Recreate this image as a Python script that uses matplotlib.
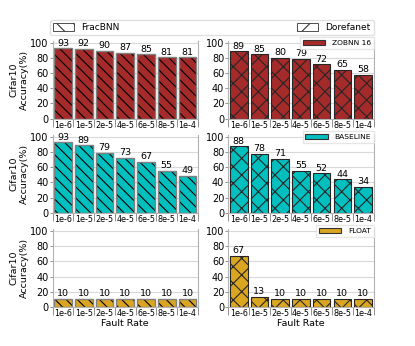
import matplotlib.pyplot as plt
from matplotlib.patches import Patch
from matplotlib.ticker import FixedLocator

fault_rates = ["1e-6", "1e-5", "2e-5", "4e-5", "6e-5", "8e-5", "1e-4"]

# FracBNN (left column) / Dorefanet (right column)
zobnn_frac = [93, 92, 90, 87, 85, 81, 81]
zobnn_dore = [89, 85, 80, 79, 72, 65, 58]
base_frac = [93, 89, 79, 73, 67, 55, 49]
base_dore = [88, 78, 71, 55, 52, 44, 34]
float_frac = [10, 10, 10, 10, 10, 10, 10]
float_dore = [67, 13, 10, 10, 10, 10, 10]

rows = [
    ("ZOBNN 16", "brown", zobnn_frac, zobnn_dore),
    ("BASELINE", "c", base_frac, base_dore),
    ("FLOAT", "goldenrod", float_frac, float_dore),
]

plt.rcParams['hatch.linewidth'] = 0.8

fig, axes = plt.subplots(3, 2, figsize=(4.15, 3.46), dpi=100)
fig.subplots_adjust(left=0.127, right=0.9, top=0.882, bottom=0.1136,
                    wspace=0.21, hspace=0.21)

x = range(len(fault_rates))
w = 0.85

for r, (name, col, left_vals, right_vals) in enumerate(rows):
    for c, vals in enumerate([left_vals, right_vals]):
        ax = axes[r, c]
        ax.set_axisbelow(True)
        ax.grid(axis='y', color='0.85', linewidth=0.8)
        if c == 0:
            # black hatch, grey outline
            ax.bar(x, vals, width=w, color=col, hatch='\\\\\\', edgecolor='black', linewidth=0)
            bars = ax.bar(x, vals, width=w, facecolor='none', edgecolor='0.5', linewidth=1.0)
        else:
            bars = ax.bar(x, vals, width=w, color=col, hatch='xx', edgecolor='0.15', linewidth=0.8)
        ax.bar_label(bars, labels=[str(v) for v in vals], padding=0.5, fontsize=6.8)
        ax.set_ylim(0, 103)
        ax.set_xlim(-0.5, 6.5)
        ax.set_yticks([0, 20, 40, 60, 80, 100])
        ax.tick_params(axis='y', labelsize=7, length=2, width=0.6, color='0.5', pad=1)
        ax.set_xticks(list(x))
        ax.set_xticklabels(fault_rates)
        ax.xaxis.set_minor_locator(FixedLocator([i - 0.5 for i in range(8)]))
        ax.tick_params(axis='x', which='major', length=0, labelsize=5.8, pad=1.5)
        ax.tick_params(axis='x', which='minor', length=5.5, width=0.6, color='0.5')
        ax.spines['top'].set_visible(False)
        for s in ['left', 'right', 'bottom']:
            ax.spines[s].set_color('0.7')
            ax.spines[s].set_linewidth(0.8)
        if c == 0:
            ax.set_ylabel("Cifar10\nAccuracy(%)", fontsize=6.8, labelpad=1)
        else:
            ax.legend(handles=[Patch(facecolor=col, edgecolor='0.2', linewidth=0.8)],
                      labels=[name], loc='upper right', bbox_to_anchor=(1.0, 1.05),
                      fontsize=5.4, borderpad=0.35, borderaxespad=0, frameon=True,
                      edgecolor='0.88', fancybox=False, handlelength=3.0,
                      handleheight=0.8, handletextpad=0.9)
        if r == 2:
            ax.set_xlabel("Fault Rate", fontsize=6.8, labelpad=0)

handles = [Patch(facecolor='white', edgecolor='0.2', hatch='\\\\', linewidth=0.6),
           Patch(facecolor='white', edgecolor='0.2', hatch='x', linewidth=0.6)]
fig.legend(handles, ["FracBNN", "Dorefanet"], ncol=2, mode='expand',
           loc='lower left', bbox_to_anchor=(0.12, 0.9, 0.78, 0.045),
           fontsize=6.5, frameon=True, edgecolor='0.85', borderpad=0.3,
           handlelength=2.4, handleheight=0.9, borderaxespad=0)

fig.savefig("out.png", dpi=100)
